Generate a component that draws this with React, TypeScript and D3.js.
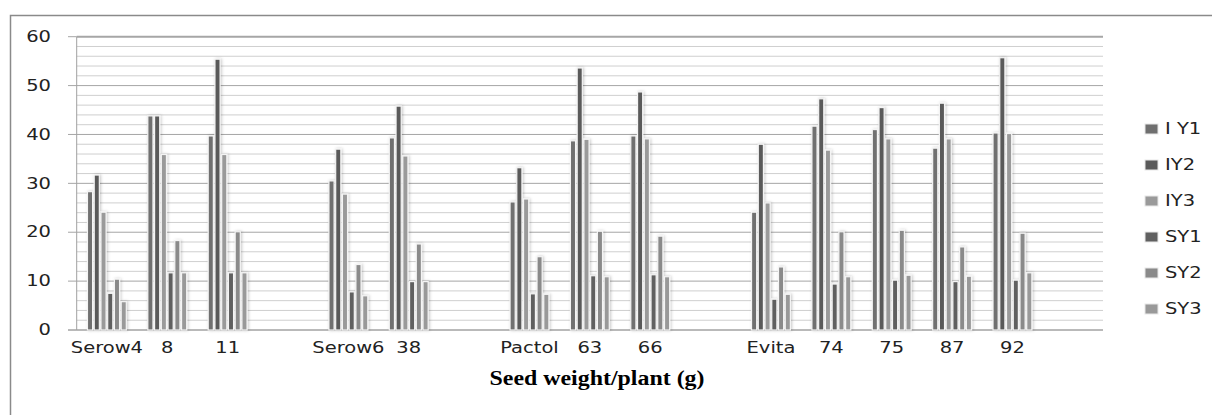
import React from 'react';
import * as d3 from 'd3';

// categories (blank entries are the empty slots between varieties)
const categories = ['Serow4', '8', '11', '', 'Serow6', '38', '', 'Pactol', '63', '66', '', 'Evita', '74', '75', '87', '92', ''];
const seriesNames = ['I Y1', 'IY2', 'IY3', 'SY1', 'SY2', 'SY3'];
const seriesColors = ['#6f6f6f', '#5a5a5a', '#9a9a9a', '#606060', '#8a8a8a', '#999999'];

const iy1 = [28.3, 43.8, 39.7, null, 30.5, 39.3, null, 26.2, 38.7, 39.7, null, 24.1, 41.7, 41.0, 37.2, 40.3, null];
const iy2 = [31.7, 43.8, 55.4, null, 37.0, 45.8, null, 33.2, 53.6, 48.7, null, 38.0, 47.3, 45.5, 46.4, 55.7, null];
const iy3 = [24.1, 35.9, 35.9, null, 27.8, 35.6, null, 26.8, 39.0, 39.1, null, 26.0, 36.8, 39.1, 39.1, 40.2, null];
const sy1 = [7.5, 11.7, 11.7, null, 7.8, 9.9, null, 7.4, 11.1, 11.3, null, 6.3, 9.4, 10.2, 9.9, 10.2, null];
const sy2 = [10.4, 18.3, 20.1, null, 13.4, 17.6, null, 15.0, 20.2, 19.2, null, 12.9, 20.1, 20.4, 17.0, 19.8, null];
const sy3 = [5.8, 11.7, 11.7, null, 7.0, 9.9, null, 7.3, 10.9, 10.9, null, 7.3, 10.9, 11.2, 11.0, 11.7, null];

const seriesValues = [iy1, iy2, iy3, sy1, sy2, sy3];
const yTicks = [0, 10, 20, 30, 40, 50, 60];
const xTitle = 'Seed weight/plant (g)';

const W = 1212;
const H = 415;
const plot = { left: 76.7, right: 1103, top: 36.7, bottom: 330 };
const labelFont = 'DejaVu Sans, Verdana, sans-serif';
const stretch = 1.3;

export default function App() {
  const x = d3.scaleBand<number>()
    .domain(d3.range(categories.length))
    .range([plot.left, plot.right])
    .paddingInner(0.33)
    .paddingOuter(0.165);
  const xi = d3.scaleBand<number>()
    .domain(d3.range(seriesNames.length))
    .range([0, x.bandwidth()]);
  const y = d3.scaleLinear().domain([0, 60]).range([plot.bottom, plot.top]);
  const minorTicks = d3.range(0, 61, 2);

  return (
    <svg width={W} height={H} style={{ position: 'absolute', left: 0, top: 0, background: '#fff' }}>
      <defs>
        <filter id="shadow" x="-50%" y="-10%" width="200%" height="120%">
          <feDropShadow dx="1" dy="0" stdDeviation="1.4" floodColor="#000" floodOpacity="0.22" />
        </filter>
      </defs>
      <rect x={10.5} y={15.5} width={1210} height={420} fill="none" stroke="#8a8a8a" strokeWidth={1.5} />

      {/* gridlines */}
      {minorTicks.map(t => (
        <line key={'g' + t} x1={plot.left} x2={plot.right} y1={y(t)} y2={y(t)}
          stroke={t % 10 === 0 ? '#a6a6a6' : '#cfcfcf'} strokeWidth={t === 60 ? 2 : 1} />
      ))}
      {yTicks.map(t => (
        <line key={'t' + t} x1={68} x2={plot.left} y1={y(t)} y2={y(t)} stroke="#a6a6a6" />
      ))}
      <line x1={plot.left} x2={plot.left} y1={plot.top} y2={plot.bottom} stroke="#a0a0a0" />
      <line x1={68} x2={plot.right} y1={plot.bottom} y2={plot.bottom} stroke="#a0a0a0" />

      {/* y labels */}
      {yTicks.map(t => (
        <text key={'yl' + t} transform={`translate(51,${y(t)}) scale(${stretch},1)`} textAnchor="end"
          dominantBaseline="central" fontFamily={labelFont} fontSize={15} fill="#222">{t}</text>
      ))}

      {/* bars */}
      {categories.map((c, ci) => (
        <g key={'c' + ci} transform={`translate(${x(ci)},0)`} filter="url(#shadow)">
          {seriesValues.map((vals, si) => {
            const v = vals[ci];
            if (v == null) return null;
            return (
              <rect key={si} x={(xi(si) as number) + 0.8} width={xi.bandwidth() - 1.6}
                y={y(v)} height={y(0) - y(v)} fill={seriesColors[si]} stroke="#f4f4f4" strokeWidth={1.2} />
            );
          })}
        </g>
      ))}

      {/* x labels */}
      {categories.map((c, ci) => c ? (
        <text key={'xl' + ci} transform={`translate(${(x(ci) as number) + x.bandwidth() / 2},353) scale(${stretch},1)`}
          textAnchor="middle" fontFamily={labelFont} fontSize={15} fill="#222">{c}</text>
      ) : null)}

      <text x={597} y={385} textAnchor="middle" fontFamily="Liberation Serif, Times New Roman, serif"
        fontWeight="bold" fontSize={20} textLength={215} lengthAdjust="spacingAndGlyphs" fill="#000">{xTitle}</text>

      {/* legend */}
      {seriesNames.map((s, si) => {
        const ly = 129 + si * 36;
        return (
          <g key={'lg' + si}>
            <rect x={1145} y={ly - 5} width={13} height={10} fill={seriesColors[si]} stroke="#e8e8e8" />
            <text transform={`translate(1165,${ly}) scale(${stretch},1)`} dominantBaseline="central"
              fontFamily={labelFont} fontSize={15} fill="#222">{s}</text>
          </g>
        );
      })}
    </svg>
  );
}
